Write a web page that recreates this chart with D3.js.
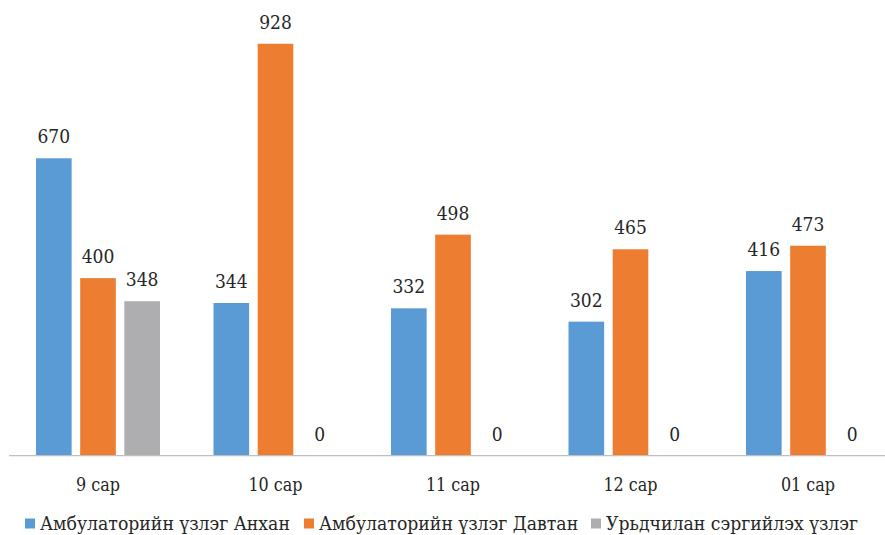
<!DOCTYPE html>
<html><head><meta charset="utf-8">
<script src="https://cdn.jsdelivr.net/npm/d3@7"></script>
<style>body{margin:0;background:#fff}svg{display:block}</style>
</head><body><svg id="c" width="885" height="535"></svg>
<script>
const categories = ["9 сар","10 сар","11 сар","12 сар","01 сар"];
const seriesNames = ["Амбулаторийн үзлэг Анхан","Амбулаторийн үзлэг Давтан","Урьдчилан сэргийлэх үзлэг"];
const anhan = [670,344,332,302,416];
const davtan = [400,928,498,465,473];
const urid = [348,0,0,0,0];
const colors = ["#5B9BD5","#ED7D31","#AEAEB1"];
const seriesVals = [anhan,davtan,urid];
const FONT = "'DejaVu Serif Condensed', 'DejaVu Serif', serif";
const TXT = "#262626";

const svg = d3.select("#c");

// measure helper: font size so that a sample string has the target width
function fitSize(sample, target, base){
  const t = svg.append("text").attr("font-family",FONT).attr("font-size",base).text(sample);
  const w = t.node().getComputedTextLength();
  t.remove();
  return base*target/w;
}
const labelSize = fitSize("928", 32.7, 20);
const axisSize = fitSize("9 сар", 44, 20);
const legSize = fitSize(seriesNames[0], 250, 20);

const baseY = 455.7;
const y = d3.scaleLinear().domain([0,1000]).range([baseY, 11.8]);
const x0 = d3.scaleBand().domain(categories).range([9.25, 896.75]).padding(0);
const groupW = 124;
const x1 = d3.scaleBand().domain(d3.range(3)).range([0, groupW]).paddingInner(0.193);

categories.forEach((c,i)=>{
  const gx = x0(c) + (x0.bandwidth()-groupW)/2;
  const g = svg.append("g").attr("transform",`translate(${gx},0)`);
  seriesVals.forEach((vals,s)=>{
    const v = vals[i];
    g.append("rect").attr("x",x1(s)).attr("width",x1.bandwidth())
      .attr("y",y(v)).attr("height",baseY - y(v)).attr("fill",colors[s]);
    g.append("text").attr("x",x1(s)+x1.bandwidth()/2).attr("y",y(v)-15)
      .attr("text-anchor","middle").attr("font-family",FONT).attr("font-size",labelSize)
      .attr("fill",TXT).text(v);
  });
});

svg.append("line").attr("x1",9).attr("x2",885).attr("y1",baseY).attr("y2",baseY)
  .attr("stroke","#BFBFBF").attr("stroke-width",1.2);

const xAxis = d3.axisBottom(x0).tickSize(0).tickPadding(0);
const ax = svg.append("g").attr("transform",`translate(0,${baseY})`).call(xAxis);
ax.attr("font-family",FONT).attr("font-size",axisSize);
ax.select(".domain").remove();
ax.selectAll("text").attr("dy",null).attr("y",35).attr("fill",TXT);

const legX = [25,304,591];
seriesNames.forEach((n,s)=>{
  svg.append("rect").attr("x",legX[s]).attr("y",518.5).attr("width",10).attr("height",10).attr("fill",colors[s]);
  svg.append("text").attr("x",legX[s]+15).attr("y",530)
    .attr("font-family",FONT).attr("font-size",legSize).attr("fill",TXT).text(n);
});
</script></body></html>
